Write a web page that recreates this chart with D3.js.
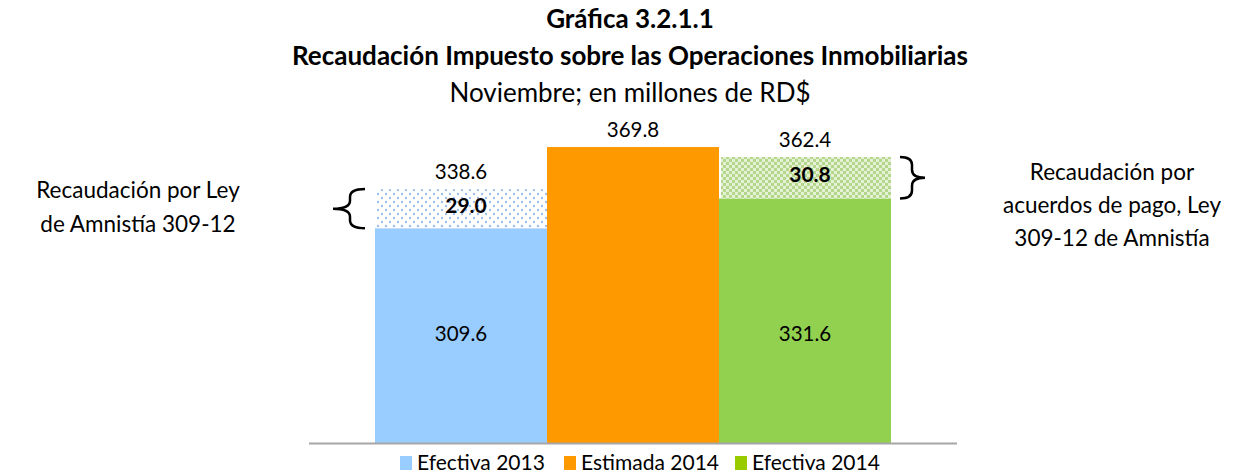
<!DOCTYPE html>
<html>
<head>
<meta charset="utf-8">
<script src="https://cdn.jsdelivr.net/npm/d3@7"></script>
<style>
  body { margin: 0; background: #fff; }
  text { font-family: Lato, "Open Sans", sans-serif; fill: #000; }
</style>
</head>
<body>
<div id="svg-div"></div>
<script>
var width = 1239;
var height = 475;

// data
var categories = ["Efectiva 2013", "Estimada 2014", "Efectiva 2014"];
var baseValues = [309.6, 369.8, 331.6];
var amnistia = [29.0, null, 30.8];
var totals = [338.6, 369.8, 362.4];
var colors = ["#99ccff", "#ff9900", "#92d050"];
var titleLines = ["Gráfica 3.2.1.1", "Recaudación Impuesto sobre las Operaciones Inmobiliarias", "Noviembre; en millones de RD$"];
var leftNote = ["Recaudación por Ley", "de Amnistía 309-12"];
var rightNote = ["Recaudación por", "acuerdos de pago, Ley", "309-12 de Amnistía"];

var svg = d3.select("#svg-div").append("svg")
  .attr("width", width).attr("height", height);

var defs = svg.append("defs");
// dotted pattern for amnesty 2013
var p1 = defs.append("pattern").attr("id", "dots").attr("patternUnits", "userSpaceOnUse")
  .attr("width", 8).attr("height", 8);
p1.append("rect").attr("width", 8).attr("height", 8).attr("fill", "#fff");
p1.append("circle").attr("cx", 2).attr("cy", 2).attr("r", 1.2).attr("fill", "#9dbfe9");
p1.append("circle").attr("cx", 6).attr("cy", 6).attr("r", 1.2).attr("fill", "#9dbfe9");
// checker pattern for amnesty 2014
var p2 = defs.append("pattern").attr("id", "checker").attr("patternUnits", "userSpaceOnUse")
  .attr("width", 6).attr("height", 6);
p2.append("rect").attr("width", 6).attr("height", 6).attr("fill", "#e4f1d4");
p2.append("rect").attr("width", 3).attr("height", 3).attr("fill", "#b5d78c");
p2.append("rect").attr("x", 3).attr("y", 3).attr("width", 3).attr("height", 3).attr("fill", "#b5d78c");

var x = d3.scaleBand().domain(categories).range([375, 891]).paddingInner(0);
var y = d3.scaleLinear().domain([150, 400]).range([443.5, 106.3]);

// titles
svg.selectAll(".title").data(titleLines).enter().append("text")
  .attr("x", 630)
  .attr("y", function(d, i) { return 28 + i * 37; })
  .attr("text-anchor", "middle")
  .style("font-size", "26px")
  .style("font-weight", function(d, i) { return i < 2 ? "bold" : "normal"; })
  .text(function(d) { return d; });

// base bars
svg.selectAll(".bar").data(categories).enter().append("rect")
  .attr("x", function(d) { return x(d); })
  .attr("width", x.bandwidth())
  .attr("y", function(d, i) { return y(baseValues[i]); })
  .attr("height", function(d, i) { return y(150) - y(baseValues[i]); })
  .attr("fill", function(d, i) { return colors[i]; });

// amnesty segments
var segs = categories.map(function(c, i) { return {c: c, i: i, v: amnistia[i]}; })
  .filter(function(d) { return d.v !== null; });
svg.selectAll(".seg").data(segs).enter().append("rect")
  .attr("x", function(d) { return x(d.c) + 2; })
  .attr("width", x.bandwidth() - 2)
  .attr("y", function(d) { return y(totals[d.i]); })
  .attr("height", function(d) { return y(baseValues[d.i]) - y(totals[d.i]); })
  .attr("fill", function(d) { return d.i === 0 ? "url(#dots)" : "url(#checker)"; });

svg.selectAll(".seglabel").data(segs).enter().append("text")
  .attr("x", function(d) { return x(d.c) + x.bandwidth() / 2 + 5; })
  .attr("y", function(d) { return (y(baseValues[d.i]) + y(totals[d.i])) / 2 - 1; })
  .attr("text-anchor", "middle").attr("dominant-baseline", "middle")
  .style("font-size", "21px").style("font-weight", "bold")
  .text(function(d) { return d.v.toFixed(1); });

// total labels
svg.selectAll(".total").data(categories).enter().append("text")
  .attr("x", function(d) { return x(d) + x.bandwidth() / 2; })
  .attr("y", function(d, i) { return y(totals[i]) - 10; })
  .attr("text-anchor", "middle")
  .style("font-size", "20.5px")
  .text(function(d, i) { return totals[i].toFixed(1); });

// base labels (not for the estimate)
svg.selectAll(".base").data([0, 2]).enter().append("text")
  .attr("x", function(i) { return x(categories[i]) + x.bandwidth() / 2; })
  .attr("y", 341)
  .attr("text-anchor", "middle")
  .style("font-size", "20.5px")
  .text(function(i) { return baseValues[i].toFixed(1); });

// axis line
svg.append("line")
  .attr("x1", 309).attr("x2", 957)
  .attr("y1", y(150)).attr("y2", y(150))
  .style("stroke", "#a6a6a6").style("stroke-width", 2);

// braces
function brace(tipX, spineX, pointX, top, bottom) {
  var mid = (top + bottom) / 2, r = 8;
  return "M" + tipX + "," + top +
    " Q" + spineX + "," + top + " " + spineX + "," + (top + r) +
    " L" + spineX + "," + (mid - r) +
    " Q" + spineX + "," + mid + " " + pointX + "," + mid +
    " Q" + spineX + "," + mid + " " + spineX + "," + (mid + r) +
    " L" + spineX + "," + (bottom - r) +
    " Q" + spineX + "," + bottom + " " + tipX + "," + bottom;
}
svg.append("path")
  .attr("d", brace(365, 350, 333, y(totals[0]), y(baseValues[0])))
  .attr("fill", "none").attr("stroke", "#000").attr("stroke-width", 2.5);
svg.append("path")
  .attr("d", brace(900, 912, 925, y(totals[2]), y(baseValues[2])))
  .attr("fill", "none").attr("stroke", "#000").attr("stroke-width", 2.5);

// notes
svg.selectAll(".lnote").data(leftNote).enter().append("text")
  .attr("x", 138).attr("y", function(d, i) { return 198 + i * 34; })
  .attr("text-anchor", "middle").style("font-size", "22.5px")
  .text(function(d) { return d; });
svg.selectAll(".rnote").data(rightNote).enter().append("text")
  .attr("x", 1112).attr("y", function(d, i) { return 180 + i * 33; })
  .attr("text-anchor", "middle").style("font-size", "22.5px")
  .text(function(d) { return d; });

// legend
var legX = [400, 564, 735];
var leg = svg.selectAll(".leg").data(categories).enter().append("g")
  .attr("transform", function(d, i) { return "translate(" + legX[i] + ",456)"; });
leg.append("rect").attr("width", 12).attr("height", 14)
  .attr("fill", function(d, i) { return i === 2 ? "#99cc00" : colors[i]; });
leg.append("text").attr("x", 17).attr("y", 14)
  .style("font-size", "21px")
  .text(function(d) { return d; });
</script>
</body>
</html>
